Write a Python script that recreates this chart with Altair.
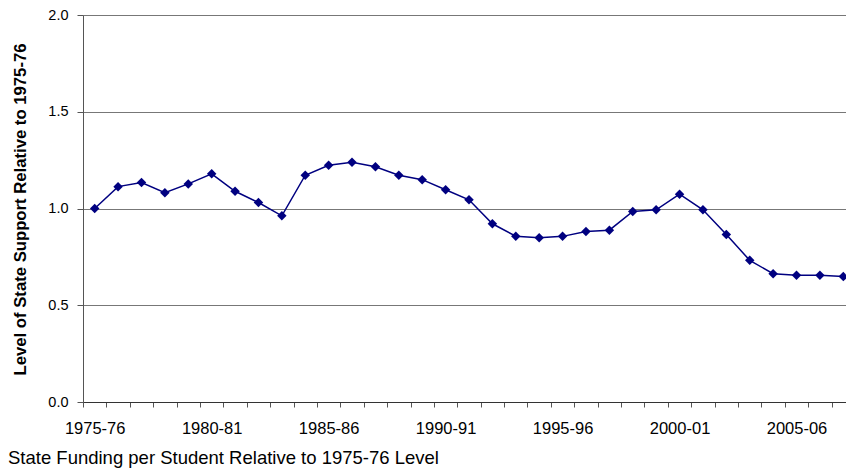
import altair as alt
import pandas as pd

years = [f"{y}-{str(y + 1)[-2:]}" for y in range(1975, 2008)]
values = [1.00, 1.113, 1.134, 1.082, 1.127, 1.179, 1.089, 1.031, 0.962, 1.172,
          1.223, 1.239, 1.216, 1.172, 1.149, 1.097, 1.045, 0.921, 0.857, 0.849,
          0.856, 0.881, 0.888, 0.985, 0.993, 1.074, 0.993, 0.866, 0.732, 0.663,
          0.655, 0.655, 0.648]

df = pd.DataFrame({"year": years, "value": values})

FONT = "Liberation Sans"

chart = alt.Chart(df).mark_line(
    color="#000080", strokeWidth=1.5,
    point=alt.OverlayMarkDef(shape="diamond", size=90, filled=True, color="#000080", opacity=1)
).encode(
    x=alt.X("year:O", sort=years, bandPosition=0.5,
            scale=alt.Scale(type="band", paddingInner=0, paddingOuter=0, range=[0, 772]),
            axis=alt.Axis(title=None, tickBand="extent", tickSize=5, tickColor="#555",
                          domainColor="#333", labelAngle=0, labelFont=FONT, labelFontSize=16.5,
                          labelColor="black", labelPadding=13, labelOverlap=False,
                          labelExpr="(toNumber(substring(datum.value,0,4)) - 1975) % 5 == 0 ? datum.value : ''")),
    y=alt.Y("value:Q", scale=alt.Scale(domain=[0, 2]),
            axis=alt.Axis(title="Level of State Support Relative to 1975-76",
                          values=[0, 0.5, 1.0, 1.5, 2.0], format=".1f",
                          grid=True, gridColor="#777", gridWidth=1,
                          tickSize=6, tickColor="#555", domainColor="#555",
                          labelFont=FONT, labelFontSize=14.5, labelColor="black", labelPadding=9,
                          titleFont=FONT, titleFontSize=16.7, titleFontWeight="bold",
                          titleColor="black", titleX=-63, titleY=194,
                          titleAngle=-90, titleAlign="center", titleBaseline="middle")),
).properties(
    width=763, height=387,
    padding={"left": 75, "top": 7, "right": 0, "bottom": 66},
    autosize=alt.AutoSizeParams(type="none"),
    title=alt.TitleParams("State Funding per Student Relative to 1975-76 Level",
                          orient="bottom", anchor="start", frame="group", dx=-75, offset=12,
                          font=FONT, fontSize=18.5, fontWeight="normal", color="black"),
).configure_view(strokeWidth=0).configure(background="white")

chart.save("out.html", embed_options={"renderer": "svg", "actions": False})
